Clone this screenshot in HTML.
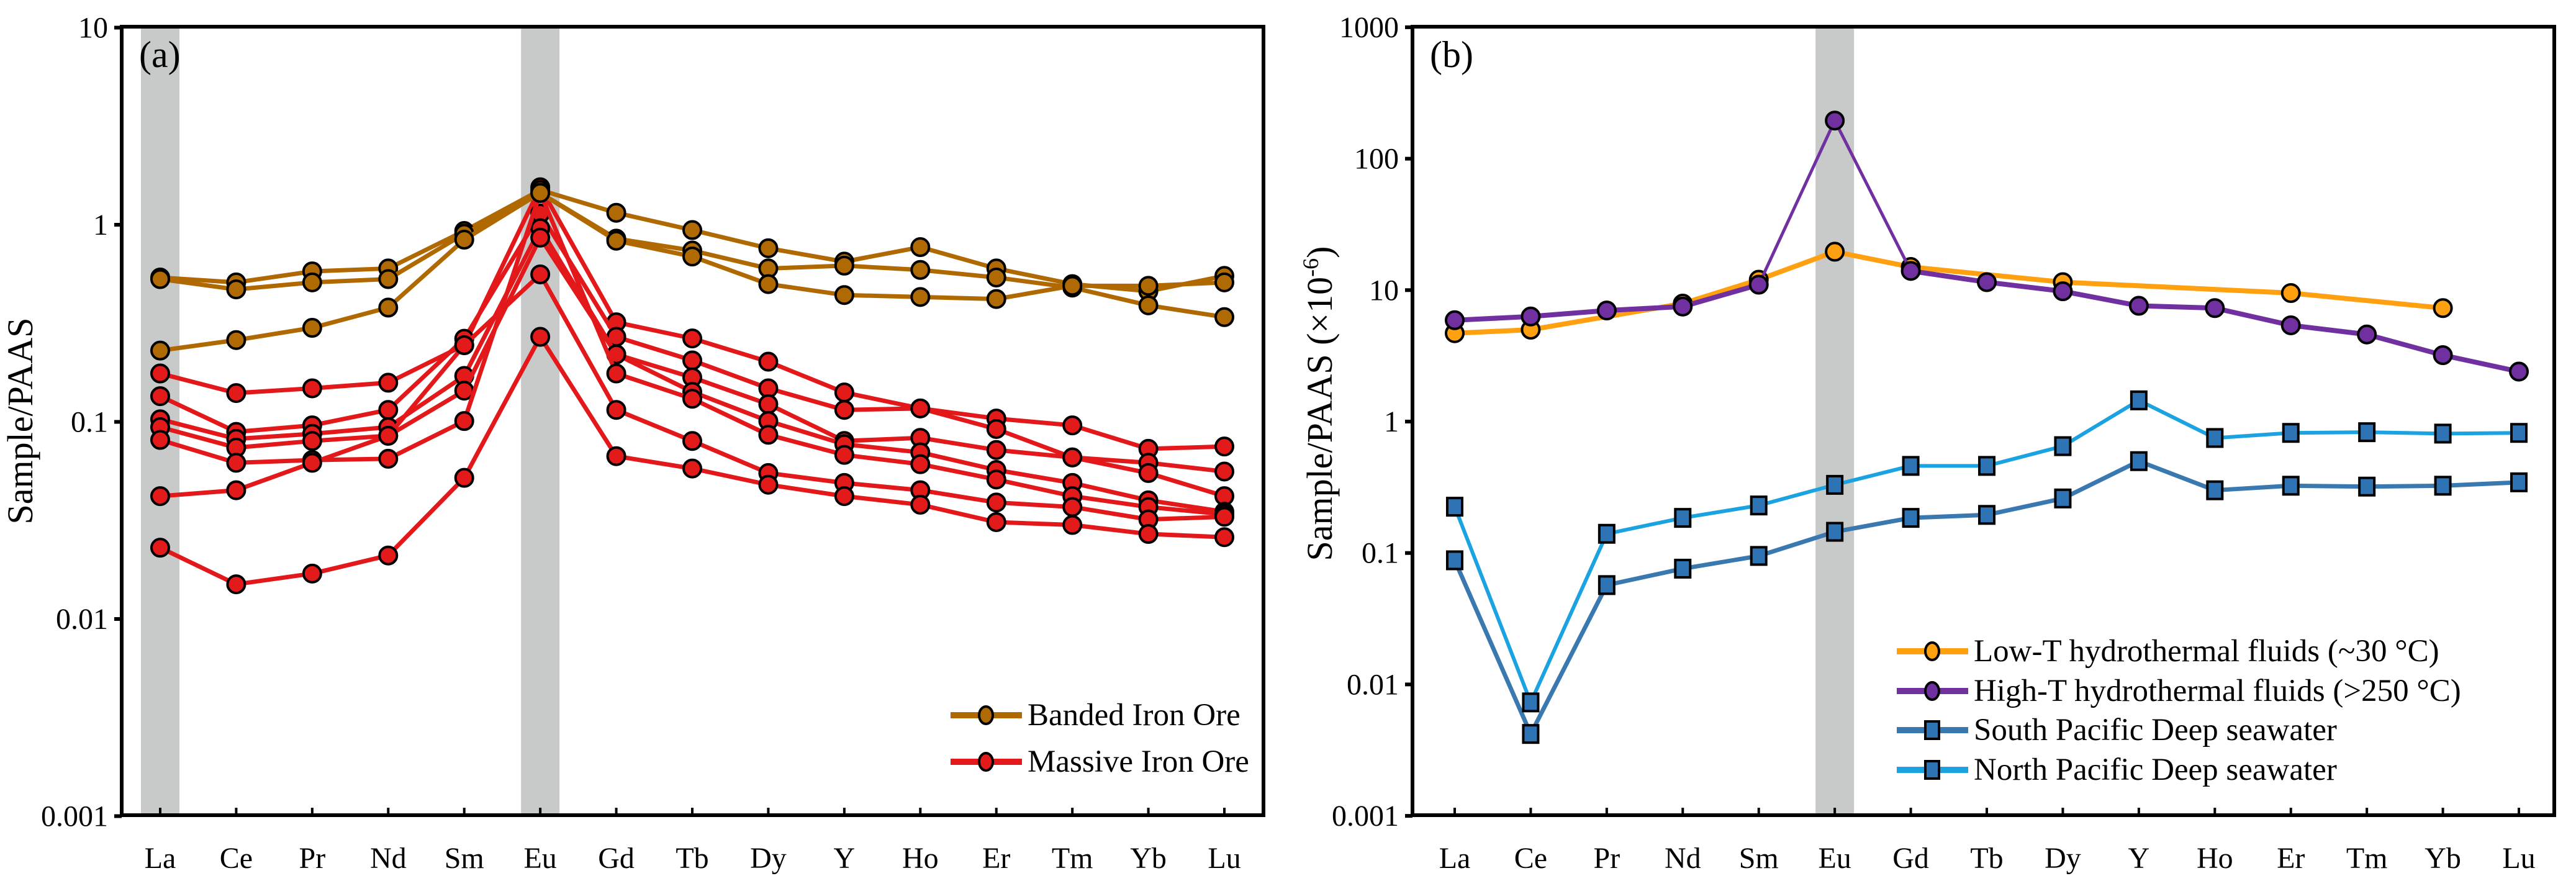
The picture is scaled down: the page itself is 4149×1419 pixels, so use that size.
<!DOCTYPE html>
<html><head><meta charset="utf-8"><style>
html,body{margin:0;padding:0;background:#fff;}
svg{display:block;font-family:"Liberation Serif",serif;}
</style></head><body>
<svg id="chart" width="4149" height="1419" viewBox="0 0 4149 1419" xmlns="http://www.w3.org/2000/svg">
<rect width="4149" height="1419" fill="#fff"/>
<g id="pa"></g>
<g id="pb"></g>
</svg>
<script>
const elements = ["La","Ce","Pr","Nd","Sm","Eu","Gd","Tb","Dy","Y","Ho","Er","Tm","Yb","Lu"];
const ticksA = [10,1,0.1,0.01,0.001];
const tickLabelsA = ["10","1","0.1","0.01","0.001"];
const ticksB = [1000,100,10,1,0.1,0.01,0.001];
const tickLabelsB = ["1000","100","10","1","0.1","0.01","0.001"];
const banded1 = [0.54,0.51,0.58,0.60,0.93,1.50,1.15,0.94,0.76,0.65,0.77,0.60,0.50,0.46,0.55];
const banded2 = [0.53,0.47,0.51,0.53,0.90,1.45,0.85,0.74,0.60,0.62,0.59,0.54,0.48,0.39,0.34];
const banded3 = [0.23,0.26,0.30,0.38,0.84,1.45,0.83,0.69,0.50,0.44,0.43,0.42,0.49,0.49,0.51];
const massive1 = [0.176,0.14,0.148,0.158,0.245,1.55,0.32,0.265,0.202,0.141,0.117,0.104,0.096,0.073,0.075];
const massive2 = [0.135,0.089,0.096,0.115,0.264,1.14,0.27,0.205,0.148,0.115,0.117,0.092,0.066,0.062,0.056];
const massive3 = [0.103,0.082,0.087,0.094,0.171,0.96,0.22,0.168,0.123,0.080,0.083,0.072,0.066,0.055,0.042];
const massive4 = [0.094,0.074,0.080,0.085,0.144,0.86,0.22,0.142,0.101,0.077,0.070,0.057,0.049,0.040,0.035];
const massive5 = [0.081,0.062,0.064,0.065,0.101,1.45,0.176,0.131,0.086,0.068,0.061,0.051,0.042,0.037,0.034];
const massive6 = [0.042,0.045,0.062,0.085,0.245,0.56,0.115,0.080,0.055,0.049,0.045,0.039,0.037,0.032,0.033];
const massive7 = [0.023,0.015,0.017,0.021,0.052,0.27,0.067,0.058,0.048,0.042,0.038,0.031,0.030,0.027,0.026];
const lowT = [4.7,5.0,null,7.9,12,19.6,15,null,11.5,null,null,9.5,null,7.3,null];
const highT = [5.9,6.3,7.0,7.5,11,195,14,11.5,9.8,7.6,7.3,5.4,4.6,3.2,2.4];
const southPacific = [0.088,0.0042,0.057,0.076,0.095,0.145,0.185,0.195,0.26,0.50,0.30,0.325,0.32,0.325,0.345];
const northPacific = [0.225,0.0073,0.14,0.185,0.23,0.33,0.46,0.46,0.65,1.45,0.75,0.82,0.83,0.81,0.82];

const NS="http://www.w3.org/2000/svg";
function mk(parent,tag,attrs,text){const e=document.createElementNS(NS,tag);for(const k in attrs)e.setAttribute(k,attrs[k]);if(text!==undefined)e.textContent=text;parent.appendChild(e);return e;}

const plotTop=43,plotBot=1313;
function xA(i){return 258+i*122.43;}
function yA(v){return 362-Math.log10(v)*317.5;}
function xB(i){return 2343+i*122.43;}
function yB(v){return 679-Math.log10(v)*211.7;}

function frame(g,L,R,xf,yf,ticks,labels,bands,ttl,panelLbl){
  bands.forEach(i=>{const r=mk(g,'rect',{x:xf(i)-31,y:plotTop,width:62,height:plotBot-plotTop,fill:'#c8c9c9'});
  
  });
  mk(g,'rect',{x:L,y:plotTop,width:R-L,height:plotBot-plotTop,fill:'none',stroke:'#000','stroke-width':6});
  ticks.forEach((t,k)=>{const y=yf(t);
    mk(g,'line',{x1:L-12,y1:y,x2:L,y2:y,stroke:'#000','stroke-width':6});
    const tl=mk(g,'text',{x:L-22,y:y+16,'text-anchor':'end','font-size':48},labels[k]);
    
    });
  elements.forEach((e,i)=>{const x=xf(i);
    mk(g,'line',{x1:x,y1:plotBot,x2:x,y2:plotBot-12,stroke:'#000','stroke-width':4});
    const tl=mk(g,'text',{x:x,y:1398,'text-anchor':'middle','font-size':48},e);
    
    });
  const cx=(L===196)?52:2145, cy=(L===196)?678:650;
  const t=mk(g,'text',{x:cx,y:cy,'text-anchor':'middle','font-size':58,transform:`rotate(-90 ${cx} ${cy})`});
  
  
  t.innerHTML=ttl;
  const p=mk(g,'text',{x:L+28,y:108,'font-size':60},panelLbl);
  
  
}

function series(g,vals,xf,yf,color,lw,shape,name,thinSpike){
  const pts=[];vals.forEach((v,i)=>{if(v!==null&&v!==undefined)pts.push([xf(i),yf(v),i]);});
  const sg=mk(g,'g',{});
  
  
  for(let k=1;k<pts.length;k++){
    let w=lw; if(thinSpike&&(pts[k][2]===5||pts[k-1][2]===5))w=5;
    mk(sg,'line',{x1:pts[k-1][0],y1:pts[k-1][1],x2:pts[k][0],y2:pts[k][1],stroke:color,'stroke-width':w,'stroke-linecap':'round'});
  }
  pts.forEach(p=>{let m;
    if(shape==='sq'){m=mk(sg,'rect',{x:p[0]-12,y:p[1]-14,width:24,height:28,fill:'#2e74b5',stroke:'#000','stroke-width':4});}
    else{m=mk(sg,'circle',{cx:p[0],cy:p[1],r:14,fill:shape,stroke:'#000','stroke-width':4});}
    
    });
}

function legend(g,x,y,color,lw,fill,label,sq){
  const lg=mk(g,'g',{});
  
  
  mk(lg,'line',{x1:x,y1:y,x2:x+115,y2:y,stroke:color,'stroke-width':lw+3});
  if(sq)mk(lg,'rect',{x:x+46,y:y-14,width:22,height:28,fill:'#2e74b5',stroke:'#000','stroke-width':4});
  else mk(lg,'ellipse',{cx:x+57,cy:y,rx:11,ry:14,fill:fill,stroke:'#000','stroke-width':4});
  mk(lg,'text',{x:x+124,y:y+16,'font-size':51},label);
}

const ga=document.getElementById('pa');
frame(ga,196,2035,xA,yA,ticksA,tickLabelsA,[0,5],'Sample/PAAS','(a)');
const BR='#b06800',RD='#e3181b',BRF='#b06a04',RDF='#e31a1a';
[massive1,massive2,massive3,massive4,massive5,massive6,massive7].forEach((s,k)=>series(ga,s,xA,yA,RD,7,RDF,'massive-iron-ore-'+(k+1)));
[banded1,banded2,banded3].forEach((s,k)=>series(ga,s,xA,yA,BR,7,BRF,'banded-iron-ore-'+(k+1)));
legend(ga,1531,1152,BR,7,BRF,'Banded Iron Ore');
legend(ga,1531,1227,RD,7,RDF,'Massive Iron Ore');

const gb=document.getElementById('pb');
frame(gb,2275,4114,xB,yB,ticksB,tickLabelsB,[5],'Sample/PAAS (×10<tspan dy="-22" font-size="36">-6</tspan><tspan dy="22">)</tspan>','(b)');
series(gb,southPacific,xB,yB,'#3a78b0',7,'sq','south-pacific-deep-seawater');
series(gb,northPacific,xB,yB,'#1aa3e0',6,'sq','north-pacific-deep-seawater');
series(gb,lowT,xB,yB,'#ffa010',8,'#ffa010','low-t-hydrothermal-fluids');
series(gb,highT,xB,yB,'#7030a0',8,'#7030a0','high-t-hydrothermal-fluids',true);
legend(gb,3055,1049,'#ffa010',7,'#ffa010','Low-T hydrothermal fluids  (~30 °C)');
legend(gb,3055,1113,'#7030a0',7,'#7030a0','High-T hydrothermal fluids (>250 °C)');
legend(gb,3055,1176,'#3a78b0',7,null,'South Pacific Deep seawater',true);
legend(gb,3055,1240,'#1aa3e0',7,null,'North Pacific Deep seawater',true);
</script>
</body></html>
